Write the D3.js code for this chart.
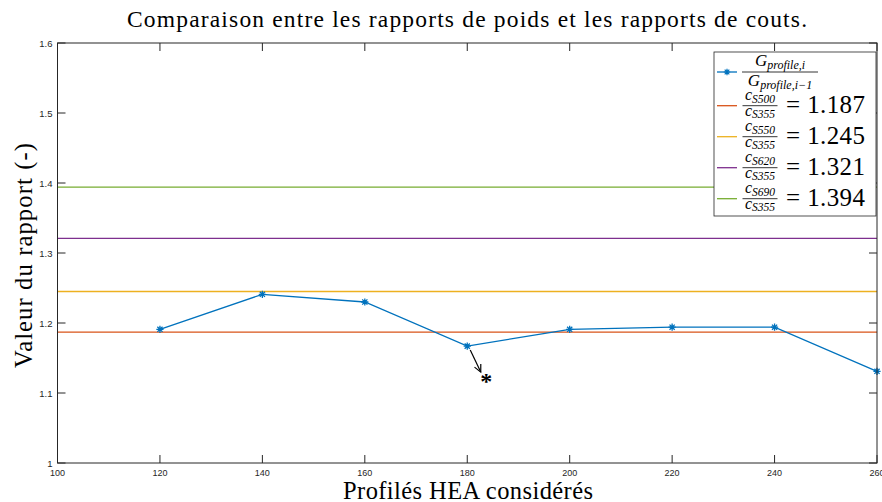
<!DOCTYPE html>
<html><head><meta charset="utf-8">
<script src="https://cdn.jsdelivr.net/npm/d3@7"></script>
<style>
html,body{margin:0;padding:0;background:#fff;overflow:hidden}
svg{display:block}
</style></head>
<body>
<svg id="chart" width="882" height="502"></svg>
<script>
// ---- data ----
const profiles = [120, 140, 160, 180, 200, 220, 240, 260];
const weightRatios = [1.191, 1.241, 1.230, 1.167, 1.191, 1.194, 1.194, 1.131];
const steelGrades = ["S500", "S550", "S620", "S690"];
const costRatios = [1.187, 1.245, 1.321, 1.394];
const refColors = ["#D95319", "#EDB120", "#7E2F8E", "#77AC30"];
const xTicks = [100, 120, 140, 160, 180, 200, 220, 240, 260];
const yTicks = [1, 1.1, 1.2, 1.3, 1.4, 1.5, 1.6];
const annotatedProfile = 180;
const seriesColor = "#0072BD";
const titleText = "Comparaison entre les rapports de poids et les rapports de couts.";
const xLabelText = "Profilés HEA considérés";
const yLabelText = "Valeur du rapport (-)";

// ---- layout ----
const svg = d3.select("#chart");
const L = 57.5, R = 877, T = 43, B = 463;
const x = d3.scaleLinear().domain([100, 260]).range([L, R]);
const y = d3.scaleLinear().domain([1, 1.6]).range([B, T]);
const axisColor = "#262626";
const tickFont = "'Liberation Sans', Arial, sans-serif";
const serif = "'Liberation Serif', 'DejaVu Serif', serif";

// reference horizontal lines
svg.append("g").selectAll("line").data(costRatios).join("line")
  .attr("x1", x(100)).attr("x2", x(260))
  .attr("y1", d => y(d)).attr("y2", d => y(d))
  .attr("stroke", (d, i) => refColors[i]).attr("stroke-width", 1.3);

// series line
const line = d3.line().x((d, i) => x(profiles[i])).y(d => y(d));
svg.append("path").datum(weightRatios).attr("d", line)
  .attr("fill", "none").attr("stroke", seriesColor).attr("stroke-width", 1.3);

// asterisk marker path
function starPath(r) {
  const a = r * 0.72;
  return `M${-r},0L${r},0M0,${-r}L0,${r}M${-a},${-a}L${a},${a}M${-a},${a}L${a},${-a}`;
}
svg.append("g").selectAll("path").data(weightRatios).join("path")
  .attr("transform", (d, i) => `translate(${x(profiles[i])},${y(d)})`)
  .attr("d", starPath(3.6)).attr("stroke", seriesColor).attr("stroke-width", 1.3).attr("fill", "none");

// axes with inward ticks (box)
const tl = 8;
const gAx = svg.append("g").attr("stroke", axisColor).attr("stroke-width", 1);
gAx.append("rect").attr("x", L).attr("y", T).attr("width", R - L).attr("height", B - T).attr("fill", "none");
xTicks.forEach(t => {
  gAx.append("line").attr("x1", x(t)).attr("x2", x(t)).attr("y1", B).attr("y2", B - tl);
  gAx.append("line").attr("x1", x(t)).attr("x2", x(t)).attr("y1", T).attr("y2", T + tl);
});
yTicks.forEach(t => {
  gAx.append("line").attr("y1", y(t)).attr("y2", y(t)).attr("x1", L).attr("x2", L + tl);
  gAx.append("line").attr("y1", y(t)).attr("y2", y(t)).attr("x1", R).attr("x2", R - tl);
});
svg.append("g").selectAll("text").data(xTicks).join("text")
  .attr("x", d => x(d)).attr("y", B + 13).attr("text-anchor", "middle")
  .attr("font-family", tickFont).attr("font-size", 9).attr("fill", axisColor)
  .text(d => d);
svg.append("g").selectAll("text").data(yTicks).join("text")
  .attr("x", L - 5).attr("y", d => y(d) + 3.5).attr("text-anchor", "end")
  .attr("font-family", tickFont).attr("font-size", 9.5).attr("fill", axisColor)
  .text(d => d3.format("")(+d.toFixed(1)));

// title and labels
svg.append("text").attr("x", (127 + 807) / 2).attr("y", 27).attr("text-anchor", "middle")
  .attr("font-family", serif).attr("font-size", 23.5).attr("fill", "#000")
  .attr("textLength", 680).attr("lengthAdjust", "spacing").text(titleText);
svg.append("text").attr("x", 468).attr("y", 499).attr("text-anchor", "middle")
  .attr("font-family", serif).attr("font-size", 24.5).attr("fill", "#000")
  .attr("textLength", 250).attr("lengthAdjust", "spacing").text(xLabelText);
svg.append("text").attr("transform", "translate(32,255.5) rotate(-90)").attr("text-anchor", "middle")
  .attr("font-family", serif).attr("font-size", 24.5).attr("fill", "#000")
  .attr("textLength", 225).attr("lengthAdjust", "spacing").text(yLabelText);

// annotation arrow + asterisk at the annotated point
const ai = profiles.indexOf(annotatedProfile);
const ax0 = x(annotatedProfile) + 3, ay0 = y(weightRatios[ai]) + 4;
const ax1 = ax0 + 10.5, ay1 = ay0 + 22;
const ga = svg.append("g").attr("stroke", "#000").attr("stroke-width", 1.2).attr("fill", "none");
ga.append("line").attr("x1", ax0).attr("y1", ay0).attr("x2", ax1).attr("y2", ay1);
{
  const ang = Math.atan2(ay1 - ay0, ax1 - ax0), hl = 8, sp = 0.45;
  ga.append("path").attr("d",
    `M${ax1 - hl * Math.cos(ang - sp)},${ay1 - hl * Math.sin(ang - sp)}L${ax1},${ay1}L${ax1 - hl * Math.cos(ang + sp)},${ay1 - hl * Math.sin(ang + sp)}`);
}
svg.append("text").attr("x", ax1 + 5.5).attr("y", ay1 + 17).attr("text-anchor", "middle")
  .attr("font-family", serif).attr("font-size", 24).attr("font-weight", "bold").attr("fill", "#000").text("*");

// legend
const lg = svg.append("g");
lg.append("rect").attr("x", 714).attr("y", 52).attr("width", 162).attr("height", 164)
  .attr("fill", "#fff").attr("stroke", axisColor).attr("stroke-width", 0.8);
const mi = "'Liberation Serif', serif";
function sub(t, main, subscript, fsMain, fsSub, drop) {
  t.append("tspan").attr("font-style", "italic").attr("font-size", fsMain).text(main);
  t.append("tspan").attr("font-style", "italic").attr("font-size", fsSub).attr("dy", drop).text(subscript);
}
// entry 1: series
{
  const yy = 72;
  lg.append("line").attr("x1", 717).attr("x2", 737).attr("y1", yy).attr("y2", yy)
    .attr("stroke", seriesColor).attr("stroke-width", 1.3);
  lg.append("path").attr("transform", `translate(727,${yy})`).attr("d", starPath(3.2))
    .attr("stroke", seriesColor).attr("stroke-width", 1.2);
  lg.append("line").attr("x1", 742).attr("x2", 818).attr("y1", yy).attr("y2", yy).attr("stroke", "#000").attr("stroke-width", 0.8);
  const n = lg.append("text").attr("x", 780).attr("y", yy - 6.5).attr("text-anchor", "middle").attr("font-family", mi);
  sub(n, "G", "profile,i", 17, 12, 3);
  const d = lg.append("text").attr("x", 780).attr("y", yy + 13.5).attr("text-anchor", "middle").attr("font-family", mi);
  sub(d, "G", "profile,i\u22121", 17, 12, 3);
}
costRatios.forEach((v, i) => {
  const yy = 105.7 + i * 31;
  lg.append("line").attr("x1", 717).attr("x2", 737).attr("y1", yy).attr("y2", yy)
    .attr("stroke", refColors[i]).attr("stroke-width", 1.3);
  lg.append("line").attr("x1", 742.5).attr("x2", 777.5).attr("y1", yy).attr("y2", yy).attr("stroke", "#000").attr("stroke-width", 0.8);
  const n = lg.append("text").attr("x", 760).attr("y", yy - 5.5).attr("text-anchor", "middle").attr("font-family", mi);
  sub(n, "c", steelGrades[i], 16, 11.5, 2.5);
  const d = lg.append("text").attr("x", 760).attr("y", yy + 10).attr("text-anchor", "middle").attr("font-family", mi);
  sub(d, "c", "S355", 16, 11.5, 2.5);
  lg.append("text").attr("x", 786).attr("y", yy + 7).attr("font-family", mi).attr("font-size", 25)
    .attr("fill", "#000").attr("textLength", 79).attr("lengthAdjust", "spacing").text("= " + v.toFixed(3));
});
</script>
</body></html>
